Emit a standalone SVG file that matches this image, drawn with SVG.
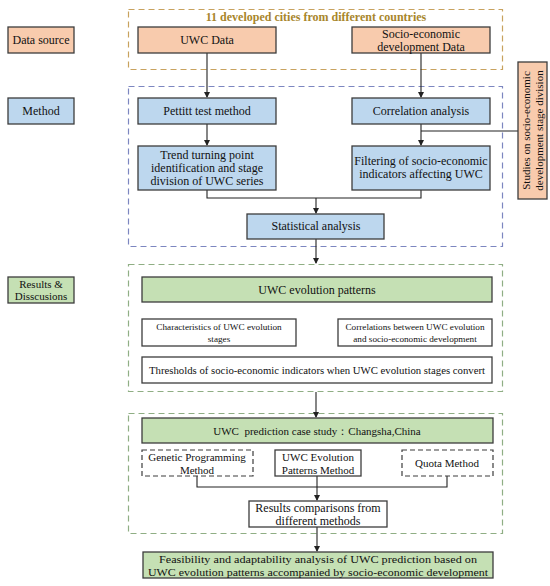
<svg xmlns="http://www.w3.org/2000/svg" width="550" height="586" viewBox="0 0 550 586">
<defs>
<marker id="ah" markerWidth="6" markerHeight="6" refX="5" refY="3" orient="auto" markerUnits="userSpaceOnUse">
<path d="M0,0 L6,3 L0,6 Z" fill="#222"/>
</marker>
<style>
text{font-family:"Liberation Serif","Times New Roman",serif;fill:#111;text-anchor:middle;}
.t12{font-size:12px;}
.t11{font-size:11px;}
.t9{font-size:9.2px;}
.box{stroke:#3c3c3c;stroke-width:1.3;}
.or{fill:#f8cbad;}
.bl{fill:#bdd7ee;}
.gr{fill:#c5e0b4;}
.wh{fill:#fff;}
.dash{fill:#fff;stroke:#3c3c3c;stroke-width:1.2;stroke-dasharray:5,3;}
.frame{fill:none;stroke-width:1.2;stroke-dasharray:6,4;}
.conn{fill:none;stroke:#222;stroke-width:1.1;}
</style>
</defs>
<rect width="550" height="586" fill="#fff"/>

<g id="frames">
<rect id="frame-data" class="frame" x="128.5" y="9.5" width="374" height="60" stroke="#c8a25e"/>
<rect id="frame-method" class="frame" x="128.5" y="86.5" width="374" height="160" stroke="#7c86c0"/>
<rect id="frame-results" class="frame" x="128.5" y="264.5" width="374" height="127" stroke="#8fae84"/>
<rect id="frame-prediction" class="frame" x="128.5" y="413.5" width="374" height="120" stroke="#8fae84"/>
<text x="316" y="21" class="t12" font-weight="bold" style="fill:#a8862c">11 developed cities from different countries</text>
</g>

<g id="connectors">
<line class="conn" x1="207" y1="53" x2="207" y2="97" marker-end="url(#ah)"/>
<line class="conn" x1="421" y1="53" x2="421" y2="97" marker-end="url(#ah)"/>
<line class="conn" x1="207" y1="124" x2="207" y2="145" marker-end="url(#ah)"/>
<line class="conn" x1="421" y1="124" x2="421" y2="145" marker-end="url(#ah)"/>
<line class="conn" x1="421" y1="131" x2="518" y2="131"/>
<polyline class="conn" points="207,190 207,198 421,198 421,190"/>
<line class="conn" x1="316" y1="198" x2="316" y2="213" marker-end="url(#ah)"/>
<line class="conn" x1="316" y1="239" x2="316" y2="263" marker-end="url(#ah)"/>
<line class="conn" x1="316" y1="392" x2="316" y2="417" marker-end="url(#ah)"/>
<polyline class="conn" points="197,476 197,487 447,487 447,476"/>
<line class="conn" x1="317" y1="476" x2="317" y2="500" marker-end="url(#ah)"/>
<line class="conn" x1="317" y1="527" x2="317" y2="551" marker-end="url(#ah)"/>
</g>

<g id="label-data-source"><rect class="box or" x="8" y="27" width="66" height="26"/><text class="t12" x="41" y="44">Data source</text></g>
<g id="label-method"><rect class="box bl" x="8" y="98" width="66" height="26"/><text class="t12" x="41" y="115">Method</text></g>
<g id="label-results"><rect class="box gr" x="8" y="277" width="66" height="26"/><text class="t11" x="41" y="288">Results &amp;</text><text class="t11" x="41" y="300">Disscusions</text></g>

<g id="uwc-data"><rect class="box or" x="138" y="27" width="138" height="26"/><text class="t12" x="207" y="44">UWC Data</text></g>
<g id="socio-data"><rect class="box or" x="352" y="27" width="138" height="26"/><text class="t12" x="421" y="38">Socio-economic</text><text class="t12" x="421" y="51">development Data</text></g>

<g id="pettitt"><rect class="box bl" x="138" y="98" width="138" height="26"/><text class="t12" x="207" y="115">Pettitt test method</text></g>
<g id="correlation"><rect class="box bl" x="352" y="98" width="138" height="26"/><text class="t12" x="421" y="115">Correlation analysis</text></g>
<g id="trend"><rect class="box bl" x="138" y="146" width="138" height="44"/><text class="t12" x="207" y="159">Trend turning point</text><text class="t12" x="207" y="172">identification and stage</text><text class="t12" x="207" y="185">division of UWC series</text></g>
<g id="filtering"><rect class="box bl" x="352" y="146" width="138" height="44"/><text class="t12" x="421" y="165">Filtering of socio-economic</text><text class="t12" x="421" y="178">indicators affecting UWC</text></g>
<g id="statistical"><rect class="box bl" x="247" y="214" width="137" height="25"/><text class="t12" x="316" y="230">Statistical analysis</text></g>
<g id="studies"><rect class="box or" x="518" y="62" width="29" height="137"/><text class="t11" transform="translate(530,130.5) rotate(-90)">Studies on socio-economic</text><text class="t11" transform="translate(543,130.5) rotate(-90)">development stage division</text></g>

<g id="evolution-patterns"><rect class="box gr" x="142" y="277" width="350" height="25"/><text class="t12" x="317" y="294">UWC evolution patterns</text></g>
<g id="characteristics"><rect class="box wh" x="142" y="319" width="154" height="27"/><text class="t9" x="219" y="330">Characteristics of UWC evolution</text><text class="t9" x="219" y="342">stages</text></g>
<g id="correlations"><rect class="box wh" x="338" y="319" width="154" height="27"/><text class="t9" x="415" y="330">Correlations between UWC evolution</text><text class="t9" x="415" y="342">and socio-economic development</text></g>
<g id="thresholds"><rect class="box wh" x="142" y="357" width="350" height="26"/><text class="t11" x="317" y="374" textLength="336" lengthAdjust="spacingAndGlyphs">Thresholds of socio-economic indicators when UWC evolution stages convert</text></g>

<g id="prediction"><rect class="box gr" x="142" y="418" width="351" height="25"/><text class="t11" x="317" y="435" xml:space="preserve">UWC  prediction case study：Changsha,China</text></g>
<g id="genetic"><rect class="dash" x="142" y="450" width="111" height="26"/><text class="t11" x="197" y="461">Genetic Programming</text><text class="t11" x="197" y="474">Method</text></g>
<g id="uwc-evolution-method"><rect class="box wh" x="275" y="450" width="86" height="26"/><text class="t11" x="318" y="461">UWC Evolution</text><text class="t11" x="318" y="474">Patterns Method</text></g>
<g id="quota"><rect class="dash" x="402" y="450" width="91" height="26"/><text class="t11" x="447" y="467">Quota Method</text></g>
<g id="comparisons"><rect class="box wh" x="249" y="501" width="138" height="26"/><text class="t12" x="318" y="512">Results comparisons from</text><text class="t12" x="318" y="525">different methods</text></g>
<g id="feasibility"><rect class="box gr" x="143" y="552" width="350" height="26"/><text class="t11" x="318" y="563" textLength="318" lengthAdjust="spacingAndGlyphs">Feasibility and adaptability analysis of UWC prediction based on</text><text class="t11" x="318" y="576" textLength="340" lengthAdjust="spacingAndGlyphs">UWC evolution patterns accompanied by socio-economic development</text></g>
</svg>
